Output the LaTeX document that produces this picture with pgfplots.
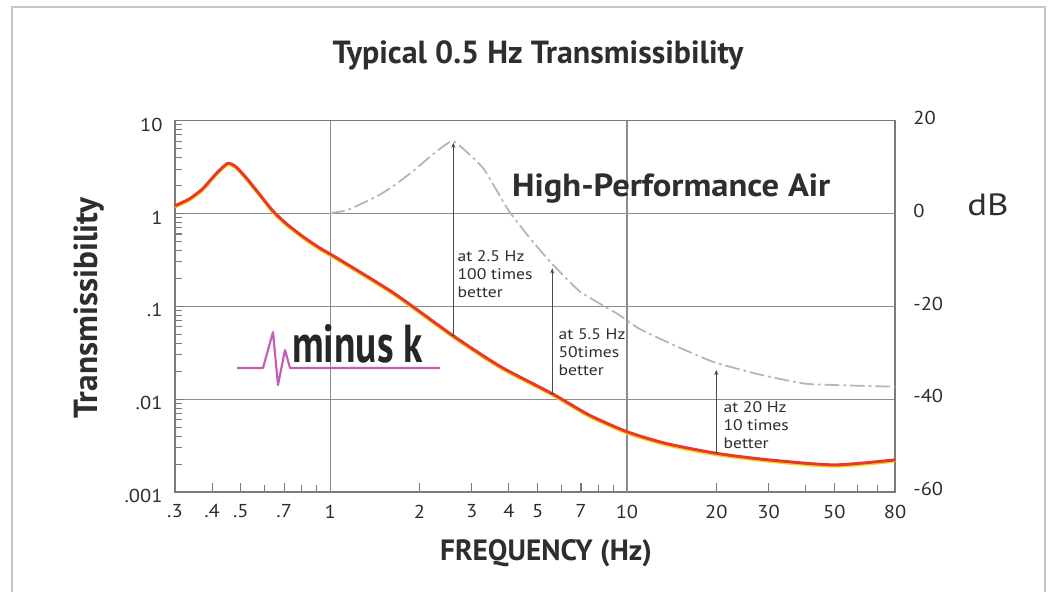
\documentclass[border=0pt]{standalone}
\usepackage{pgfplots}
\pgfplotsset{compat=1.18}
\usepackage{fontspec}
\setmainfont{PT Sans}
\usetikzlibrary{arrows.meta}
\definecolor{redc}{HTML}{E8382B}
\definecolor{yelc}{HTML}{F2D21A}
\definecolor{graydash}{HTML}{B4B4B4}
\definecolor{axisgray}{HTML}{7A7A7A}
\definecolor{gridgray}{HTML}{8C8C8C}
\definecolor{txt}{HTML}{2E2E2E}
\definecolor{arrowc}{HTML}{4A4A4A}
\definecolor{logomag}{HTML}{C45DB4}

\pgfplotstableread{
x y
0.3 1.21
0.335 1.43
0.371 1.83
0.412 2.66
0.451 3.45
0.481 3.18
0.52 2.44
0.577 1.62
0.64 1.07
0.709 0.783
0.807 0.567
0.918 0.428
1.045 0.336
1.63 0.14
2.6 0.048
3.74 0.0225
5.64 0.0113
7.46 0.00674
10 0.00446
13.5 0.00334
20 0.00261
30 0.00222
50 0.00196
80 0.00222
}\minusk

\pgfplotstableread{
x y
1.0 1.0
1.14 1.08
1.26 1.25
1.44 1.53
1.63 1.96
1.9 2.84
2.22 4.33
2.6 6.0
3.28 3.06
3.95 1.13
4.6 0.593
5.5 0.303
6.94 0.144
9.28 0.083
11.0 0.0573
14.3 0.0385
19.5 0.0252
27.4 0.0187
40.4 0.0146
80 0.0136
}\air

\begin{document}
\begin{tikzpicture}[x=0.75pt,y=0.75pt]
\fill[white] (0,0) rectangle (1050,592);
\useasboundingbox (0,0) rectangle (1050,592);
\draw[gray!45, line width=1.2pt] (12,0) -- (12,585) -- (1045,585) -- (1045,0);

\begin{axis}[
  at={(131.25pt,75pt)}, anchor=south west,
  scale only axis, width=540pt, height=278.6pt,
  xmode=log, ymode=log,
  xmin=0.3, xmax=80, ymin=0.001, ymax=10,
  axis line style={draw=axisgray, line width=1.1pt},
  tick align=inside, tick pos=left,
  xtick={0.3,0.4,0.5,0.7,1,2,3,4,5,7,10,20,30,50,80},
  xticklabels={.3,.4,.5,.7,1,2,3,4,5,7,10,20,30,50,80},
  minor xtick={0.6,0.8,0.9,6,8,9,40,60,70},
  ytick={0.001,0.01,0.1,1,10},
  yticklabels={.001,.01,.1,1,10},
  minor ytick={0.002,0.003,0.004,0.005,0.006,0.007,0.008,0.009,0.02,0.03,0.04,0.05,0.06,0.07,0.08,0.09,0.2,0.3,0.4,0.5,0.6,0.7,0.8,0.9,2,3,4,5,6,7,8,9},
  major tick length=7pt, minor tick length=5.5pt,
  every tick/.style={axisgray, line width=0.8pt},
  ymajorgrids,
  grid style={gridgray, line width=0.8pt},
  extra x ticks={1,10}, extra x tick labels={,},
  extra x tick style={grid=major, major tick length=0pt},
  ticklabel style={font=\fontsize{14}{16}\selectfont, text=txt, xscale=1.1},
  xticklabel style={yshift=-6pt},
  yticklabel style={xshift=-5pt, yshift=-3pt},
]
% curves
\addplot[yelc, line width=1.9pt, smooth, tension=0.4, yshift=-1.2pt] table[x=x,y=y]{\minusk};
\addplot[redc, line width=2.2pt, smooth, tension=0.4] table[x=x,y=y]{\minusk};
\addplot[graydash, line width=1.3pt, smooth, tension=0.25,
  dash pattern=on 11pt off 3pt on 2pt off 3pt] table[x=x,y=y]{\air};

% arrows
\draw[arrowc, line width=0.7pt, {Bar[width=3pt]}-{Stealth[length=4pt,width=3pt]}] (axis cs:2.6,0.048) -- (axis cs:2.6,5.8);
\draw[arrowc, line width=0.7pt, {Bar[width=3pt]}-{Stealth[length=4pt,width=3pt]}] (axis cs:5.6,0.0113) -- (axis cs:5.6,0.257);
\draw[arrowc, line width=0.7pt, {Bar[width=3pt]}-{Stealth[length=4pt,width=3pt]}] (axis cs:20,0.00261) -- (axis cs:20,0.0207);

\node[anchor=north west, inner sep=0pt, align=left, text=txt, xscale=1.15, font=\fontsize{11.5}{13.5}\selectfont] at (axis cs:2.68,0.40) {at 2.5 Hz\\100 times\\better};
\node[anchor=north west, inner sep=0pt, align=left, text=txt, xscale=1.15, font=\fontsize{11.5}{13.5}\selectfont] at (axis cs:5.87,0.058) {at 5.5 Hz\\50times\\better};
\node[anchor=north west, inner sep=0pt, align=left, text=txt, xscale=1.15, font=\fontsize{11.5}{13.5}\selectfont] at (axis cs:21.1,0.0095) {at 20 Hz\\10 times\\better};

\node[text=txt, xscale=1.08, font=\fontsize{24}{28}\selectfont\bfseries] at (axis cs:14.1,1.86) {High-Performance Air};
\end{axis}

\begin{axis}[
  at={(131.25pt,75pt)}, anchor=south west,
  scale only axis, width=540pt, height=278.6pt,
  xmin=0, xmax=1, ymin=-60, ymax=20,
  axis x line=none, axis y line*=right,
  y axis line style={draw=none},
  ytick={-60,-40,-20,0,20},
  yticklabels={-60,-40,-20,0,20},
  major tick length=0pt,
  yticklabel style={font=\fontsize{14}{16}\selectfont, text=txt, xscale=1.1, xshift=9pt, yshift=2pt},
]
\addplot[draw=none] coordinates {(0,0)};
\end{axis}

% labels
\node[text=txt, font=\fontsize{24}{28}\selectfont\bfseries] at (538,537) {Typical 0.5 Hz Transmissibility};
\node[text=txt, rotate=90, font=\fontsize{25}{30}\selectfont\bfseries] at (89,284) {Transmissibility};
\node[text=txt, font=\fontsize{22}{26}\selectfont\bfseries] at (546,39) {FREQUENCY (Hz)};
\node[text=txt, xscale=1.2, font=\fontsize{23}{26}\selectfont] at (988,387) {dB};

% logo
\draw[logomag, line width=1.6pt, line join=round] (237,224) -- (263,224) -- (273,260) -- (278,207) -- (285,242) -- (290,224) -- (440,224);
\node[anchor=base west, inner sep=0pt, text=black!85] at (292,229) {\resizebox{98pt}{28.5pt}{\bfseries minus k}};
\end{tikzpicture}
\end{document}
